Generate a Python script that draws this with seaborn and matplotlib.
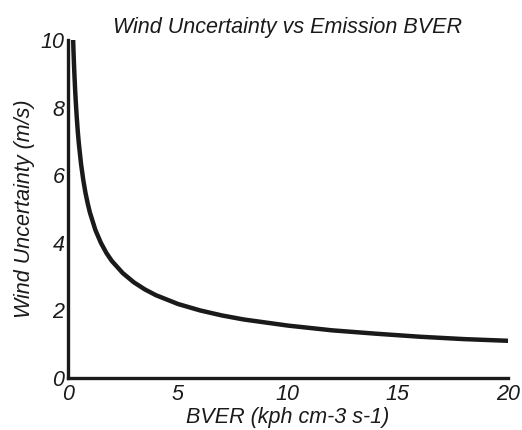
import matplotlib
matplotlib.use("Agg")
import matplotlib.pyplot as plt
import seaborn as sns
import pandas as pd

bver = [0.24, 0.25, 0.26, 0.27, 0.28, 0.3, 0.33, 0.36, 0.4, 0.45, 0.5, 0.6, 0.7, 0.8, 0.9, 1.0,
        1.25, 1.5, 1.75, 2.0, 2.5, 3.0, 3.5, 4.0, 5.0, 6.0, 7.0, 8.0, 10.0, 12.0, 14.0, 16.0,
        18.0, 20.0]
wind_unc = [10.0, 9.8, 9.6, 9.43, 9.26, 8.95, 8.53, 8.17, 7.75, 7.3, 6.93, 6.33, 5.86, 5.48,
            5.17, 4.9, 4.38, 4.0, 3.7, 3.46, 3.1, 2.83, 2.62, 2.45, 2.19, 2.0, 1.85, 1.73,
            1.55, 1.41, 1.31, 1.22, 1.15, 1.10]
x_ticks = [0, 5, 10, 15, 20]
y_ticks = [0, 2, 4, 6, 8, 10]

df = pd.DataFrame({"BVER": bver, "Wind": wind_unc})

sns.set_style("white")
plt.rcParams['font.family'] = ['Liberation Sans', 'DejaVu Sans']

fig = plt.figure(figsize=(5.22, 4.30), dpi=100)
ax = fig.add_axes([0.130, 0.121, 0.843, 0.786])
sns.lineplot(data=df, x="BVER", y="Wind", ax=ax, color="#1a1a1a", linewidth=3.2)

ax.set_xlim(0, 20)
ax.set_ylim(0, 10)
ax.set_xticks(x_ticks)
ax.set_yticks(y_ticks)
ax.set_xticklabels([str(t) for t in x_ticks], fontstyle='italic', fontsize=15.5)
ax.set_yticklabels([str(t) for t in y_ticks], fontstyle='italic', fontsize=15.5)
ax.tick_params(direction='in', length=2, width=2.5, colors='#1a1a1a')
ax.tick_params(axis='x', pad=4)
ax.tick_params(axis='y', pad=2.5)
for s in ['top', 'right']:
    ax.spines[s].set_visible(False)
for s in ['left', 'bottom']:
    ax.spines[s].set_linewidth(2.4)
    ax.spines[s].set_color('#1a1a1a')
ax.set_xlabel("BVER (kph cm-3 s-1)", fontstyle='italic', fontsize=15.5, labelpad=2, color='#1a1a1a')
ax.set_ylabel("Wind Uncertainty (m/s)", fontstyle='italic', fontsize=15.5, labelpad=4, color='#1a1a1a')
ax.set_title("Wind Uncertainty vs Emission BVER", fontstyle='italic', fontsize=15.5, pad=5, color='#1a1a1a')

fig.savefig("out.png", dpi=100)
